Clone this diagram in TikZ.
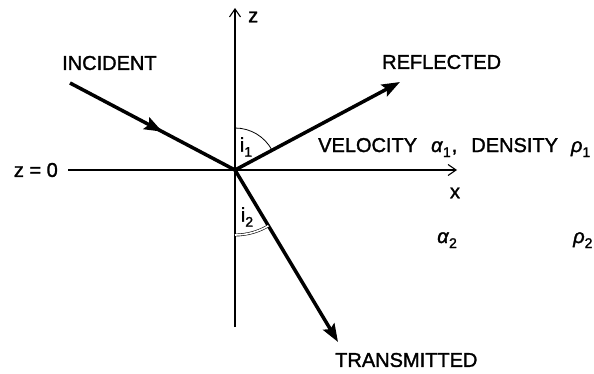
\documentclass[tikz,border=0pt]{standalone}
\usepackage{fontspec}
\setmainfont{Liberation Sans}[FakeBold=1.5]
\usetikzlibrary{arrows.meta,decorations.markings,calc}
\newcommand{\sbs}[1]{\raisebox{-5pt}{\fontsize{14}{14}\selectfont #1}}
\begin{document}
\begin{tikzpicture}[x=1pt,y=1pt,
  lbl/.style={inner sep=0pt,font=\fontsize{20}{24}\selectfont},
  axisline/.style={line width=1.1pt,-{Straight Barb[length=8pt,width=11pt,line width=1.1pt]}},
  ray/.style={line width=3.5pt},
  raytip/.style={-{Stealth[length=18pt,width=13pt,inset=3pt]}},
  anglearc/.style={line width=0.8pt}]
\useasboundingbox (0,0) rectangle (594,373);
\coordinate (O) at (235,203);
\coordinate (zb) at (235,46);
\coordinate (zt) at (235,365);
\coordinate (xl) at (68,203);
\coordinate (xr) at (457,203);
\coordinate (inc) at (70,290);
\coordinate (refl) at (400,291);
\coordinate (tran) at (338,31);
% axes
\draw[axisline] (zb) -- (zt);
\draw[axisline] (xl) -- (xr);
\node[lbl,anchor=west] (zlab) at (248,356) {z};
\node[lbl] (xlab) at (455,180) {x};
\node[lbl,anchor=east] (z0) at (58,203) {z = 0};
% rays
\draw[ray,postaction={decorate},decoration={markings,mark=at position 0.56 with {\arrow{Stealth[length=18pt,width=13pt,inset=3pt]}}}] (inc) -- (O);
\draw[ray,raytip] (O) -- (refl);
\draw[ray,raytip] (O) -- (tran);
% angle arcs
\draw[anglearc] ($(O)+(90:42)$) arc[start angle=90,end angle=28,radius=42];
\draw[anglearc,double,double distance=1.6pt,line width=0.6pt] ($(O)+(270:65)$) arc[start angle=270,end angle=301,radius=65];
\node[lbl] (i1) at (246,226) {i\sbs{1}};
\node[lbl] (i2) at (247,156) {i\sbs{2}};
% labels
\node[lbl,anchor=west] (tinc) at (62,310) {INCIDENT};
\node[lbl,anchor=west] (tref) at (382,311) {REFLECTED};
\node[lbl,anchor=west] (ttr) at (335,13) {TRANSMITTED};
\node[lbl,anchor=base west] (med1) at (318,221) {VELOCITY\hspace{14pt}\textit{α}\sbs{1}\hspace{1pt},\hspace{14pt}DENSITY\hspace{13pt}\textit{ρ}\sbs{1}};
\node[lbl,anchor=base west] (a2) at (437,130) {\textit{α}\sbs{2}};
\node[lbl,anchor=base west] (r2) at (573,130) {\textit{ρ}\sbs{2}};
\end{tikzpicture}
\end{document}
